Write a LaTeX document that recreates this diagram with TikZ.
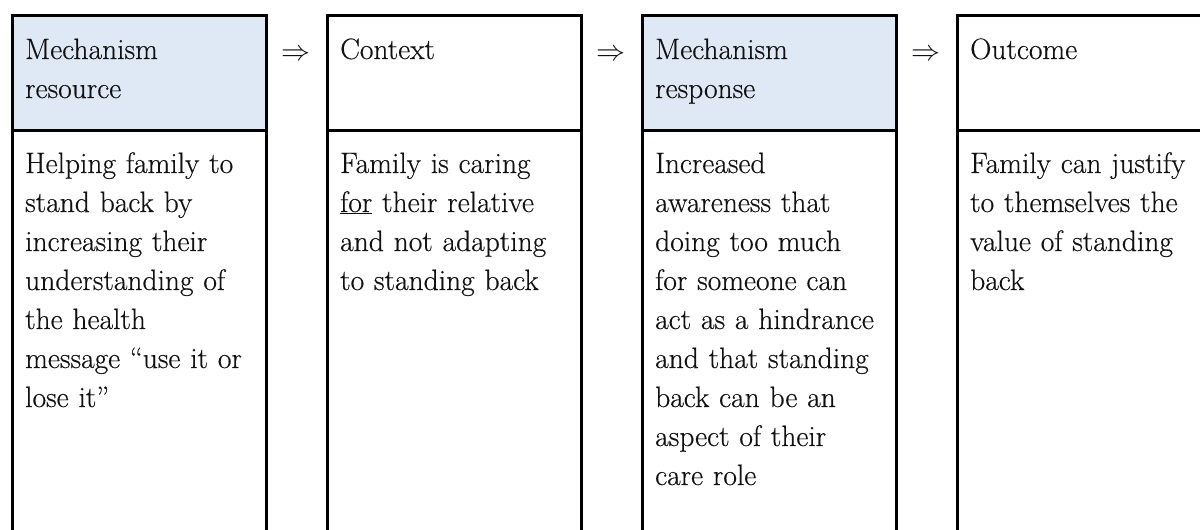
\documentclass[tikz,border=0pt]{standalone}
\usepackage{fontspec}
\newfontfamily\cellfont{Latin Modern Roman}[FakeBold=0.4]
\definecolor{headfill}{HTML}{DEE9F5}
\definecolor{ink}{HTML}{111111}
\begin{document}
\begin{tikzpicture}[x=1pt,y=-1pt,
  cell/.style={draw=black, line width=3pt, minimum width=254pt, inner sep=0pt, anchor=north west},
  head/.style={cell, minimum height=115pt},
  headblue/.style={head, fill=headfill},
  body/.style={cell, minimum height=440pt},
  txt/.style={anchor=base west, align=left, text width=240pt, inner sep=0pt, text=ink,
    font=\cellfont\fontsize{29.5}{39}\selectfont},
  flow/.style={inner sep=0pt, text=ink, font=\fontsize{20.74}{24}\selectfont, scale=1.4}
]
\useasboundingbox (0,0) rectangle (1200,530);
\clip (0,0) rectangle (1200,530);

% column frames: header band above, text body below
\node[headblue] (h1) at (11,14) {};
\node[head]     (h2) at (326,14) {};
\node[headblue] (h3) at (641,14) {};
\node[head]     (h4) at (956,14) {};
\node[body] (b1) at (11,129) {};
\node[body] (b2) at (326,129) {};
\node[body] (b3) at (641,129) {};
\node[body] (b4) at (956,129) {};

% header titles
\node[txt] (t1) at (25,59)  {Mechanism\\resource};
\node[txt] (t2) at (340,59) {Context};
\node[txt] (t3) at (655,59) {Mechanism\\response};
\node[txt] (t4) at (970,59) {Outcome};

% body texts
\node[txt] (d1) at (25,173) {Helping family to\\stand back by\\increasing their\\understanding of\\the health\\message “use it or\\lose it”};
\node[txt] (d2) at (340,173) {Family is caring\\\underline{for} their relative\\and not adapting\\to standing back};
\node[txt] (d3) at (655,173) {Increased\\awareness that\\doing too much\\for someone can\\act as a hindrance\\and that standing\\back can be an\\aspect of their\\care role};
\node[txt] (d4) at (970,173) {Family can justify\\to themselves the\\value of standing\\back};

% implication arrows between the columns
\node[flow] (a1) at (296,55) {$\Rightarrow$};
\node[flow] (a2) at (611,55) {$\Rightarrow$};
\node[flow] (a3) at (926,55) {$\Rightarrow$};
\end{tikzpicture}
\end{document}
